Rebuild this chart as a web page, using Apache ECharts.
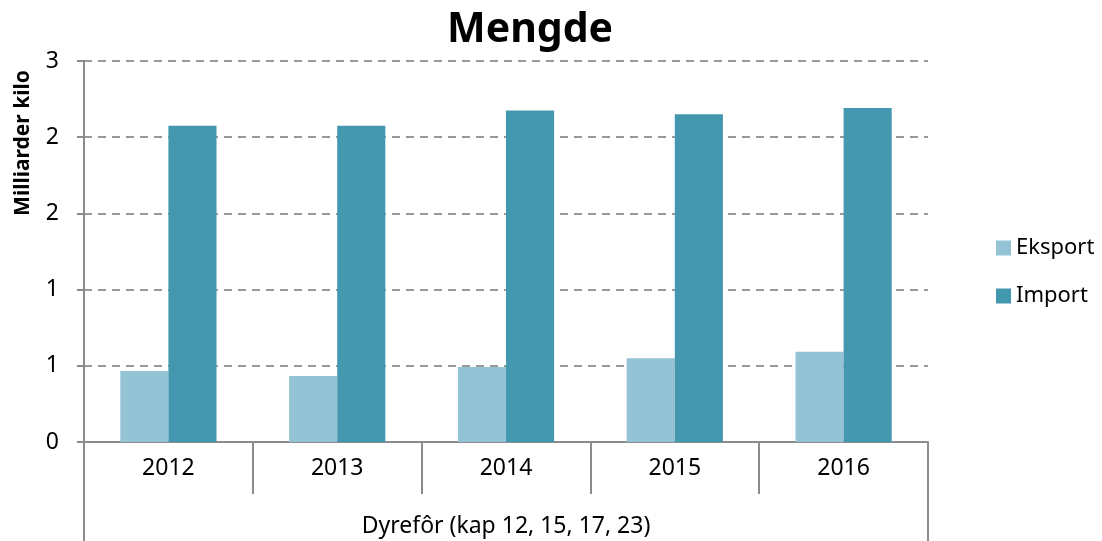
<!DOCTYPE html>
<html>
<head>
<meta charset="utf-8">
<script src="https://cdn.jsdelivr.net/npm/echarts@6/dist/echarts.min.js"></script>
<style>
  html, body { margin: 0; padding: 0; background: #fff; }
  #chart { width: 1102px; height: 541px; }
</style>
</head>
<body>
<div id="chart"></div>
<script>
// data (billions of kilos)
const years = ['2012', '2013', '2014', '2015', '2016']
const groupLabel = ['Dyrefôr (kap 12, 15, 17, 23)']
const eksport = [0.56, 0.52, 0.59, 0.66, 0.71]
const importVals = [2.49, 2.49, 2.61, 2.58, 2.63]

const font = '"Noto Sans", "Open Sans", sans-serif'
const axisGrey = '#8c8c8c'

const chart = echarts.init(document.getElementById('chart'))

const option = {
  animation: false,
  textStyle: { fontFamily: font },
  title: {
    text: 'Mengde',
    left: 442,
    top: 5,
    textStyle: { fontSize: 41, fontWeight: 'bold', color: '#000', fontFamily: font }
  },
  legend: {
    orient: 'vertical',
    left: 991,
    top: 230,
    itemWidth: 15,
    itemHeight: 15,
    itemGap: 22,
    icon: 'rect',
    textStyle: { fontSize: 22, color: '#000', lineHeight: 26 },
    data: ['Eksport', 'Import']
  },
  grid: { left: 84, right: 174, top: 61, bottom: 99 },
  xAxis: [
    {
      type: 'category',
      data: years,
      position: 'bottom',
      axisLine: { lineStyle: { color: axisGrey, width: 2 } },
      axisTick: { show: true, length: 52, lineStyle: { color: axisGrey, width: 2 } },
      axisLabel: { color: '#000', fontSize: 23, margin: 15 }
    },
    {
      type: 'category',
      data: groupLabel,
      position: 'bottom',
      axisLine: { show: false },
      axisTick: { show: true, length: 100, lineStyle: { color: axisGrey, width: 2 } },
      axisLabel: { color: '#000', fontSize: 23, margin: 73 }
    }
  ],
  yAxis: {
    type: 'value',
    min: 0,
    max: 3,
    interval: 0.6,
    axisLine: { show: true, lineStyle: { color: axisGrey, width: 2 } },
    axisTick: { show: true, length: 7, lineStyle: { color: axisGrey, width: 2 } },
    axisLabel: {
      color: '#000',
      fontSize: 23,
      margin: 25,
      formatter: v => String(Math.round(v))
    },
    splitLine: { lineStyle: { color: '#999', type: [8, 6], width: 2 } }
  },
  graphic: [
    {
      type: 'text',
      x: 23,
      y: 143,
      rotation: Math.PI / 2,
      style: {
        text: 'Milliarder kilo',
        font: 'bold 21px ' + font,
        fill: '#000',
        align: 'center',
        verticalAlign: 'middle'
      }
    }
  ],
  series: [
    {
      name: 'Eksport',
      type: 'bar',
      xAxisIndex: 0,
      data: eksport,
      barGap: '0%',
      barCategoryGap: '43%',
      itemStyle: { color: '#93c3d4' }
    },
    {
      name: 'Import',
      type: 'bar',
      xAxisIndex: 0,
      data: importVals,
      barGap: '0%',
      barCategoryGap: '43%',
      itemStyle: { color: '#4398af' }
    }
  ]
}

chart.setOption(option)
</script>
</body>
</html>
